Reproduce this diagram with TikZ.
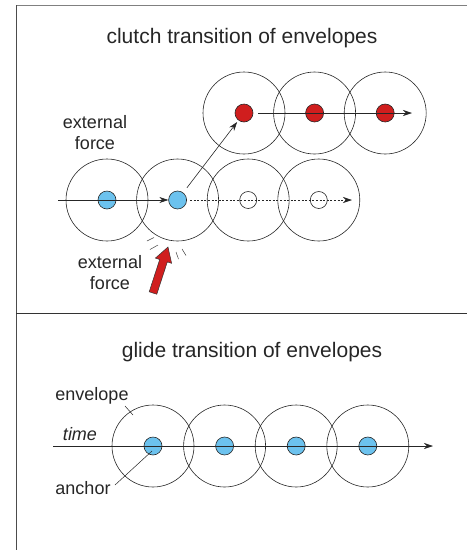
\documentclass[tikz,border=0pt]{standalone}
\usepackage{fontspec}
\setmainfont{Liberation Sans}
\usetikzlibrary{positioning,arrows.meta}
\definecolor{dotblue}{RGB}{108,194,238}
\definecolor{dotred}{RGB}{208,30,30}
\definecolor{framegray}{RGB}{128,128,128}
\tikzset {
    style env/.style={
        draw=black!85,
        line width=0.6pt,
        circle, % envelope ring
        minimum size=82pt,
        inner sep=0pt,
    },
    style blue/.style={
        fill=dotblue,
        draw=black!85,
        line width=0.6pt,
        circle,
        minimum size=18pt,
        inner sep=0pt,
    },
    style red/.style={
        fill=dotred,
        draw=black!85,
        line width=0.6pt,
        circle,
        minimum size=18pt,
        inner sep=0pt,
    },
    style empty/.style={
        fill=white,
        draw=black!85,
        line width=0.6pt,
        circle,
        minimum size=17pt,
        inner sep=0pt,
    },
    style title/.style={
        font=\fontsize{21}{25}\selectfont,
        text=black!85,
        inner sep=0pt,
    },
    style label/.style={
        font=\fontsize{18}{21}\selectfont,
        text=black!85,
        align=center,
        inner sep=0pt,
    },
    style arrow/.style={
        draw=black!85,
        line width=0.6pt,
        -{Stealth[length=9pt,width=6pt]},
    },
}
\begin{document}
\begin{tikzpicture}[x=1pt,y=-1pt]
        \useasboundingbox (0,0) rectangle (467,550);

        % frame
        \draw[framegray, line width=1pt] (16,5) -- (467,5);
        \draw[black!70, line width=1pt] (16,5) -- (16,550);
        \draw[black!80, line width=1pt] (16,313) -- (467,313);

        % ---- clutch transition ----
        \node[style title] (t1) at (242,38) {clutch transition of envelopes};

        \node[style env] (e1) at (107,200) {};
        \node[style env, right=-12pt of e1] (e2) {};
        \node[style env, right=-12pt of e2] (e3) {};
        \node[style env, right=-12pt of e3] (e4) {};

        \node[style env] (u1) at (244,113) {};
        \node[style env, right=-12pt of u1] (u2) {};
        \node[style env, right=-12pt of u2] (u3) {};

        \node[style blue] (b1) at (e1) {};
        \node[style blue] (b2) at (e2) {};
        \node[style empty] (o3) at (e3) {};
        \node[style empty] (o4) at (e4) {};

        \node[style red] (r1) at (u1) {};
        \node[style red] (r2) at (u2) {};
        \node[style red] (r3) at (u3) {};

        \coordinate (s1) at (58,200);
        \coordinate (d1) at (352,200);
        \coordinate (s2) at (258,113);
        \coordinate (d2) at (412,113);

        \draw[style arrow] (s1) -- (b2.west);
        \draw[style arrow, dash pattern=on 2pt off 1.6pt, shorten <=3pt] (b2.east) -- (d1);
        \draw[style arrow] (s2) -- (d2);
        \draw[style arrow, shorten <=6pt, shorten >=2pt] (b2) -- (r1);

        \node[style label] (f1) at (95,133) {external\\force};
        \node[style label] (f2) at (110,273) {external\\force};

        % push from below
        \filldraw[fill=dotred, draw=black!80, line width=0.5pt]
            (156.8,294.2) -- (167.3,261.9) -- (171.6,263.3) -- (168,247)
            -- (155.4,258.1) -- (159.7,259.5) -- (149.2,291.8) -- cycle;
        \draw[black!75, line width=0.5pt] (147,241) -- (154,237.5);
        \draw[black!75, line width=0.5pt] (150,249.5) -- (158,245);
        \draw[black!75, line width=0.5pt] (176,252) -- (178.5,259);
        \draw[black!75, line width=0.5pt] (182,249) -- (186,255.5);

        % ---- glide transition ----
        \node[style title] (t2) at (252,352) {glide transition of envelopes};

        \node[style env] (g1) at (153,446) {};
        \node[style env, right=-11pt of g1] (g2) {};
        \node[style env, right=-11pt of g2] (g3) {};
        \node[style env, right=-11pt of g3] (g4) {};

        \node[style blue] (a1) at (g1) {};
        \node[style blue] (a2) at (g2) {};
        \node[style blue] (a3) at (g3) {};
        \node[style blue] (a4) at (g4) {};

        \coordinate (s3) at (53,446);
        \coordinate (d3) at (433,446);
        \draw[style arrow] (s3) -- (d3);

        \node[style label, font=\fontsize{18}{21}\selectfont\itshape] (tm) at (80,434) {time};
        \node[style label] (ev) at (92,396) {envelope};
        \node[style label] (an) at (83,488) {anchor};

        \coordinate (evp) at (125,406);
        \coordinate (evq) at (133,415);
        \coordinate (anp) at (115,485);
        \coordinate (anq) at (152,451);
        \draw[black!85, line width=0.5pt] (evp) -- (evq);
        \draw[black!85, line width=0.5pt] (anp) -- (anq);

    \end{tikzpicture}
\end{document}
